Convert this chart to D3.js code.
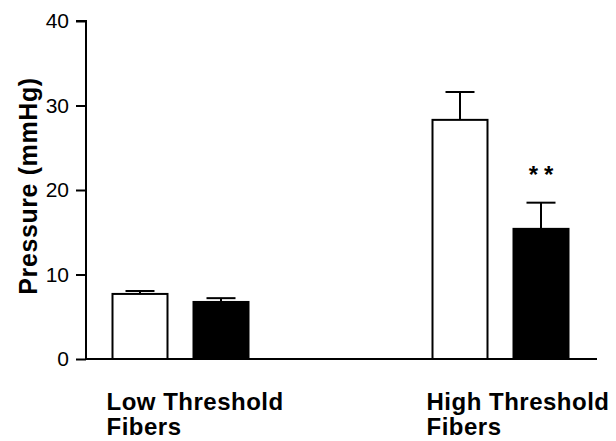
<!DOCTYPE html>
<html>
<head>
<meta charset="utf-8">
<script src="https://cdn.jsdelivr.net/npm/d3@7"></script>
<style>
  body { margin: 0; background: #fff; }
  svg { display: block; font-family: "Liberation Sans", Arial, sans-serif; }
</style>
</head>
<body>
<svg id="chart" width="616" height="441"></svg>
<script>
// data
const groups = ["Low", "High"];
const groupLabels = [["Low Threshold", "Fibers"], ["High Threshold", "Fibers"]];
const series = ["control", "treated"];
const seriesFill = { control: "#fff", treated: "#000" };
const means = { Low: [7.7, 6.75], High: [28.3, 15.4] };
const errors = { Low: [0.35, 0.45], High: [3.3, 3.1] };
const yTicks = [0, 10, 20, 30, 40];
const marks = { High: [null, "**"] };

const svg = d3.select("#chart");

const y = d3.scaleLinear().domain([0, 40]).range([359, 21]);
const x = d3.scalePoint().domain(groups).range([180.5, 500.5]);
const xi = d3.scaleBand().domain(series).range([-68, 68]).paddingInner(0.321);

// bars
const rows = groups.flatMap(g => series.map((s, i) => ({
  g, s, v: means[g][i], e: errors[g][i], m: marks[g] ? marks[g][i] : null
})));

const bars = svg.append("g");
bars.selectAll("rect")
  .data(rows)
  .join("rect")
  .attr("x", d => x(d.g) + xi(d.s))
  .attr("y", d => y(d.v))
  .attr("width", xi.bandwidth())
  .attr("height", d => y(0) - y(d.v))
  .attr("fill", d => seriesFill[d.s])
  .attr("stroke", "#000")
  .attr("stroke-width", 2);

// error bars (upper only)
const eb = svg.append("g").attr("stroke", "#000").attr("stroke-width", 2);
rows.forEach(d => {
  const cx = x(d.g) + xi(d.s) + xi.bandwidth() / 2;
  eb.append("line").attr("x1", cx).attr("x2", cx).attr("y1", y(d.v)).attr("y2", y(d.v + d.e));
  eb.append("line").attr("x1", cx - 14.5).attr("x2", cx + 14.5).attr("y1", y(d.v + d.e)).attr("y2", y(d.v + d.e));
  if (d.m) {
    svg.append("text")
      .attr("x", cx + 3)
      .attr("y", y(d.v + d.e) - 20)
      .attr("text-anchor", "middle")
      .style("font-size", "24px")
      .style("font-weight", "bold")
      .style("letter-spacing", "6px")
      .text(d.m);
  }
});

// y axis
const yAxis = d3.axisLeft(y).tickValues(yTicks).tickSize(10).tickPadding(7);
const yg = svg.append("g").attr("transform", "translate(86,0)").call(yAxis);
yg.select(".domain").attr("d", `M-10,${y(40)}H0V${y(0)}`).attr("stroke-width", 2);
yg.selectAll(".tick line").attr("stroke-width", 2);
yg.selectAll(".tick text").style("font-size", "21px").attr("fill", "#000")
  .attr("font-family", "Liberation Sans, Arial, sans-serif");

// x axis line
svg.append("line")
  .attr("x1", 86).attr("x2", 597)
  .attr("y1", y(0)).attr("y2", y(0))
  .attr("stroke", "#000").attr("stroke-width", 2);

// y label
svg.append("text")
  .attr("transform", `translate(37,186) rotate(-90)`)
  .attr("text-anchor", "middle")
  .style("font-size", "25px")
  .style("font-weight", "bold")
  .style("letter-spacing", "0.6px")
  .text("Pressure (mmHg)");

// category labels
groups.forEach((g, i) => {
  const x0 = x(g) - 74;
  const t = svg.append("text")
    .attr("x", x0)
    .attr("y", 410)
    .style("font-size", "24px")
    .style("font-weight", "bold")
    .style("letter-spacing", "0.5px");
  groupLabels[i].forEach((line, j) => {
    t.append("tspan").attr("x", x0).attr("dy", j === 0 ? 0 : 25).text(line);
  });
});
</script>
</body>
</html>
